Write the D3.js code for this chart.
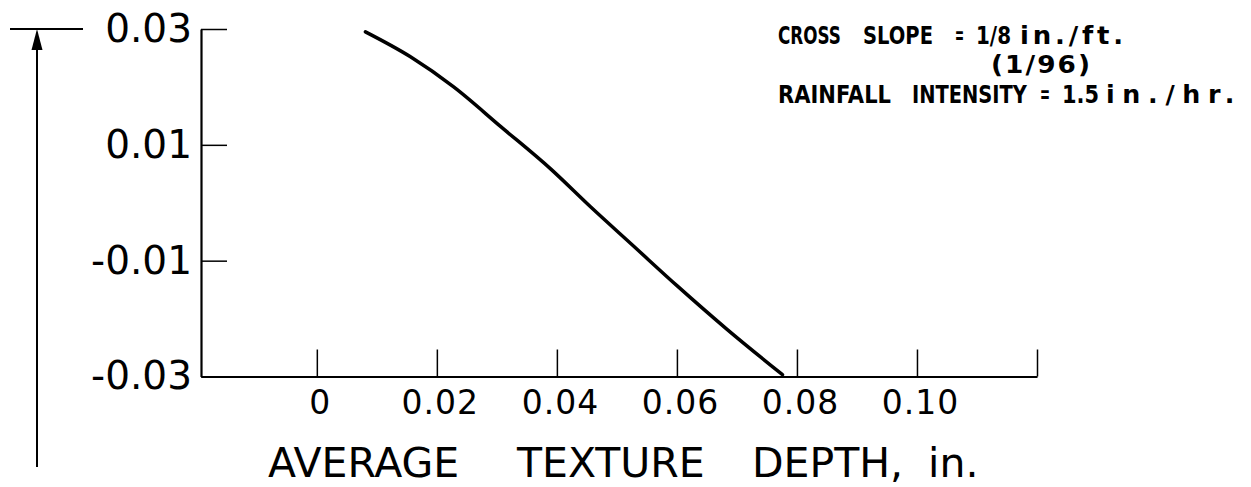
<!doctype html>
<html>
<head>
  <meta charset="utf-8">
  <title>Average texture depth</title>
  <style>
    body { margin: 0; background: #fff; }
    svg { display: block; }
  </style>
</head>
<body>
  <div class="graphContainer"></div>
  <script src="https://cdn.jsdelivr.net/npm/d3@7/dist/d3.min.js"></script>
  <script>

// curve: texture depth (in.) vs value
var depth = [0.0081, 0.0156, 0.0228, 0.0307, 0.0390, 0.0456, 0.0529, 0.0601, 0.0684, 0.0776];
var value = [0.0295, 0.0252, 0.0200, 0.0131, 0.0058, -0.0007, -0.0076, -0.0144, -0.0219, -0.0297];

var xTicks = [0, 0.02, 0.04, 0.06, 0.08, 0.10, 0.12];
var xTickLabels = ["0", "0.02", "0.04", "0.06", "0.08", "0.10", ""];
var yTicks = [0.03, 0.01, -0.01, -0.03];
var yTickLabels = ["0.03", "0.01", "-0.01", "-0.03"];

var titleWords = ["AVERAGE", "TEXTURE", "DEPTH,", "in."];
var noteLines = [
    ["CROSS", "SLOPE", "=", "1/8", "in./ft."],
    ["(1/96)"],
    ["RAINFALL", "INTENSITY", "=", "1.5", "in./hr."]
];

var FONT = "'DejaVu Sans', sans-serif";

function drawChart() {
    var w = 1251,
        h = 487;

    var svg = d3.select(".graphContainer")
        .append("svg")
        .attr("width", w)
        .attr("height", h);

    var x = d3.scaleLinear().domain([-0.0193, 0.12]).range([201, 1037]);
    var y = d3.scaleLinear().domain([-0.03, 0.03]).range([376.5, 29]);

    // y axis, ticks pointing into the plot
    var yAxis = d3.axisLeft(y)
        .tickValues(yTicks)
        .tickSize(-26)
        .tickSizeOuter(0)
        .tickPadding(9)
        .tickFormat(function(d, i) { return yTickLabels[i]; });

    var gy = svg.append("g")
        .attr("transform", "translate(" + x.range()[0] + ",0)")
        .call(yAxis);
    gy.selectAll("text")
        .attr("font-family", FONT)
        .attr("font-size", 39)
        .attr("fill", "#000");

    // x axis, ticks pointing up
    var xAxis = d3.axisBottom(x)
        .tickValues(xTicks)
        .tickSize(-27)
        .tickSizeOuter(0)
        .tickPadding(14)
        .tickFormat(function(d, i) { return xTickLabels[i]; });

    var gx = svg.append("g")
        .attr("transform", "translate(0," + y.range()[0] + ")")
        .call(xAxis);
    gx.selectAll("text")
        .attr("font-family", FONT)
        .attr("font-size", 33)
        .attr("letter-spacing", 1)
        .attr("dx", 3)
        .attr("fill", "#000");

    svg.selectAll(".domain").attr("stroke", "#000").attr("stroke-width", 2.2);
    svg.selectAll(".tick line").attr("stroke", "#000").attr("stroke-width", 1.5);

    // the curve
    var pts = depth.map(function(d, i) { return [d, value[i]]; });
    var line = d3.line()
        .x(function(d) { return x(d[0]); })
        .y(function(d) { return y(d[1]); })
        .curve(d3.curveMonotoneX);

    svg.append("path")
        .datum(pts)
        .attr("d", line)
        .attr("fill", "none")
        .attr("stroke", "#000")
        .attr("stroke-width", 3.5)
        .attr("stroke-linecap", "round");

    // dimension arrow on the left
    var top = y(0.03);
    svg.append("line")
        .attr("x1", 10).attr("x2", 83)
        .attr("y1", top).attr("y2", top)
        .attr("stroke", "#000").attr("stroke-width", 2);
    svg.append("line")
        .attr("x1", 37).attr("x2", 37)
        .attr("y1", top + 18).attr("y2", 467)
        .attr("stroke", "#000").attr("stroke-width", 2);
    svg.append("path")
        .attr("d", d3.line()([[37, top], [31.5, top + 21], [42.5, top + 21]]) + "Z")
        .attr("fill", "#000");

    // axis title
    var titleX = [268, 517, 752, 928];
    svg.append("g").selectAll("text")
        .data(titleWords)
        .join("text")
        .attr("x", function(d, i) { return titleX[i]; })
        .attr("y", 477)
        .attr("font-family", FONT)
        .attr("font-size", 41)
        .attr("fill", "#000")
        .text(function(d) { return d; });

    // note in the top right corner, each word fitted to its width
    var noteX = [[778, 863, 955, 976, 1020], [991], [778, 912, 1040, 1062, 1106]];
    var noteW = [[63, 70, 9, 35, 107], [101], [113, 115, 10, 37, 136]];
    var noteY = [44, 72.5, 102.5];
    var maxStretch = 1.12;

    noteLines.forEach(function(words, li) {
        svg.append("g").selectAll("text")
            .data(words)
            .join("text")
            .attr("font-family", FONT)
            .attr("font-weight", "bold")
            .attr("font-size", 24)
            .attr("fill", "#000")
            .text(function(d) { return d; })
            .each(function(d, i) {
                var el = d3.select(this);
                var target = noteW[li][i];
                var len = this.getComputedTextLength();
                // wide words: open the letters up instead of fattening them
                if (target / len > maxStretch && d.length > 1) {
                    el.attr("letter-spacing", (target / maxStretch - len) / (d.length - 1));
                    len = this.getComputedTextLength();
                }
                el.attr("transform",
                    "translate(" + noteX[li][i] + "," + noteY[li] + ") scale(" + (target / len) + ",1)");
            });
    });
}

drawChart();

  </script>
</body>
</html>
